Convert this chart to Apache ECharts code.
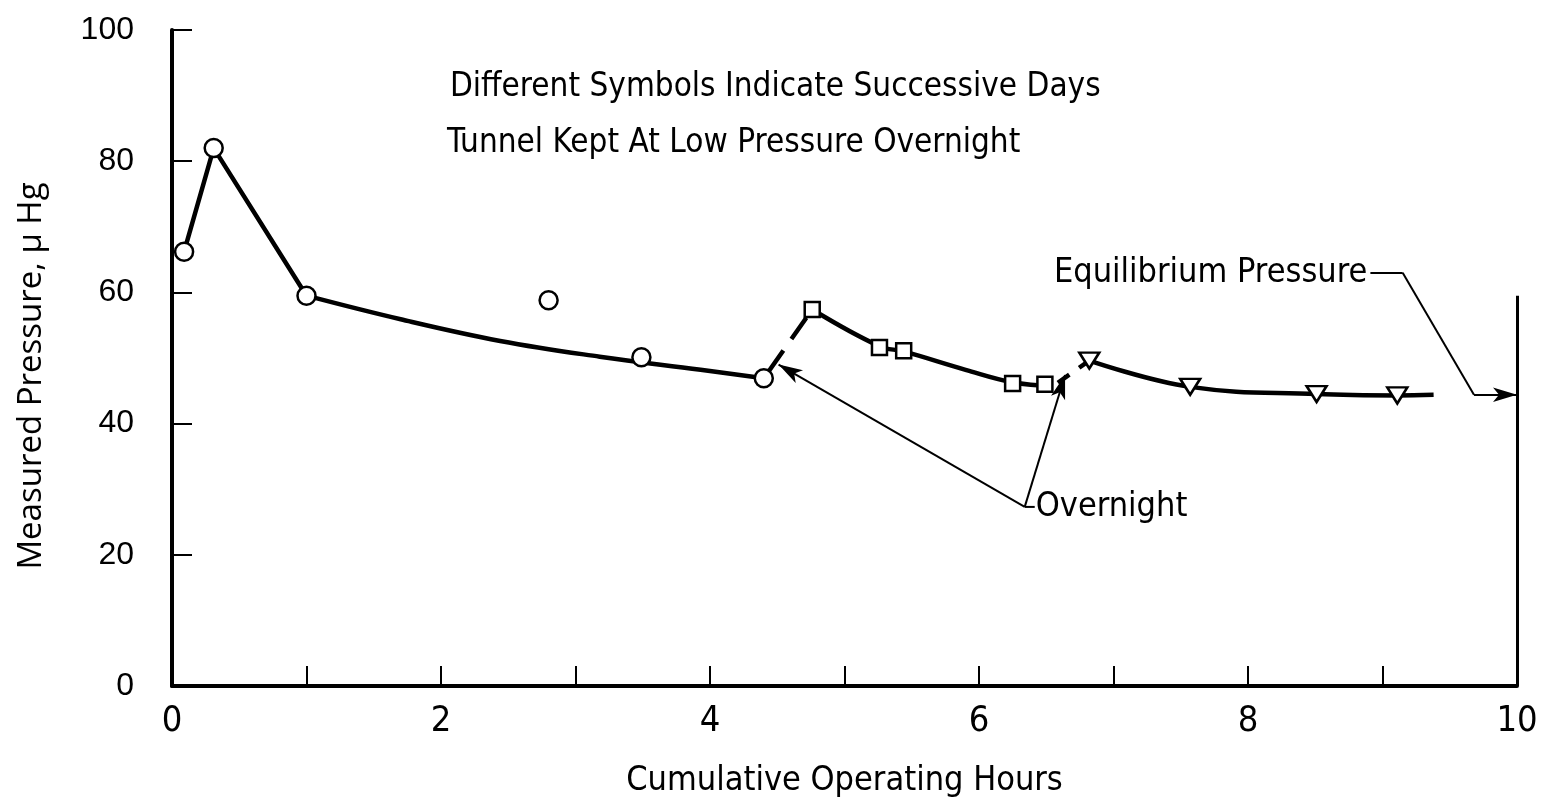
<!DOCTYPE html>
<html>
<head>
<meta charset="utf-8">
<script src="https://cdn.jsdelivr.net/npm/echarts@6/dist/echarts.min.js"></script>
<style>
  html, body { margin: 0; padding: 0; background: #fff; }
  #chart { width: 1545px; height: 803px; }
</style>
</head>
<body>
<div id="chart"></div>
<script>
// day 1 (circles), day 2 (squares), day 3 (triangles)
const day1Hours = [0.09, 0.31, 1.0, 2.8, 3.49, 4.4];
const day1Pressure = [66.2, 82.0, 59.5, 58.8, 50.1, 46.9];
const day2Hours = [4.76, 5.26, 5.44, 6.25, 6.49];
const day2Pressure = [57.4, 51.6, 51.1, 46.1, 46.0];
const day3Hours = [6.82, 7.57, 8.51, 9.11];
const day3Pressure = [49.6, 45.6, 44.5, 44.3];

// faired curves
const day1RiseHours = [0.09, 0.31, 1.0];
const day1RisePressure = [66.2, 82.0, 59.5];
const day1FitHours = [1.0, 1.7, 2.44, 3.18, 3.93, 4.4];
const day1FitPressure = [59.5, 55.9, 52.6, 50.2, 48.2, 46.9];
const day2FitHours = [4.76, 5.26, 5.44, 5.9, 6.25, 6.55];
const day2FitPressure = [57.4, 51.8, 51.0, 48.2, 46.3, 45.7];
const day3FitHours = [6.82, 7.57, 8.51, 9.11, 9.38];
const day3FitPressure = [49.6, 45.6, 44.5, 44.3, 44.4];

// overnight jumps (dashed)
const night1Hours = [4.4, 4.76];
const night1Pressure = [46.9, 57.4];
const night2Hours = [6.55, 6.82];
const night2Pressure = [45.7, 49.6];

const xTicks = [0, 2, 4, 6, 8, 10];
const equilibrium = 44.4;

// annotation anchors (data units)
const overnightVertex = [6.34, 27.3];
const overnightTips = [[4.51, 49.0], [6.64, 47.4]];
const equilibriumLeader = [[8.91, 63.0], [9.15, 63.0], [9.68, equilibrium], [10, equilibrium]];

const FONT_NARROW = '"Liberation Sans Narrow", "DejaVu Sans Condensed", "Roboto Condensed", sans-serif';

const zip = (xs, ys) => xs.map((x, i) => [x, ys[i]]);

const chart = echarts.init(document.getElementById('chart'));

const lineStyleThick = { color: '#000', width: 4.5 };
const markerStyle = { color: '#fff', borderColor: '#000', borderWidth: 2.5, opacity: 1 };

const option = {
  animation: false,
  backgroundColor: '#fff',
  grid: { left: 172, right: 28, top: 30, bottom: 117 },
  xAxis: {
    type: 'value',
    min: 0,
    max: 10,
    interval: 1,
    name: 'Cumulative Operating Hours',
    nameLocation: 'middle',
    nameGap: 78,
    nameTextStyle: { fontFamily: FONT_NARROW, fontSize: 34, color: '#000' },
    axisLine: { lineStyle: { color: '#000', width: 4 } },
    axisTick: { inside: true, length: 20, lineStyle: { color: '#000', width: 2 } },
    axisLabel: {
      margin: 18,
      fontFamily: FONT_NARROW,
      fontSize: 36,
      color: '#000',
      formatter: (v) => (xTicks.indexOf(v) >= 0 ? String(v) : '')
    },
    splitLine: { show: false }
  },
  yAxis: {
    type: 'value',
    min: 0,
    max: 100,
    interval: 20,
    name: 'Measured Pressure, \u03bc Hg',
    nameLocation: 'middle',
    nameGap: 124,
    nameTextStyle: {
      fontFamily: '"Open Sans", sans-serif', fontSize: 33, color: '#000',
      padding: [0, 36, 0, 0]
    },
    axisLine: { lineStyle: { color: '#000', width: 4 } },
    axisTick: { inside: true, length: 20, lineStyle: { color: '#000', width: 2 } },
    axisLabel: {
      margin: 38,
      fontFamily: '"Liberation Sans", sans-serif',
      fontSize: 32,
      color: '#000'
    },
    splitLine: { show: false }
  },
  series: [
    {
      type: 'line', data: zip(day1RiseHours, day1RisePressure),
      symbol: 'none', lineStyle: lineStyleThick, z: 2
    },
    {
      type: 'line', data: zip(day1FitHours, day1FitPressure), smooth: 0.4,
      symbol: 'none', lineStyle: lineStyleThick, z: 2
    },
    {
      type: 'line', data: zip(day2FitHours, day2FitPressure), smooth: 0.4,
      symbol: 'none', lineStyle: lineStyleThick, z: 2
    },
    {
      type: 'line', data: zip(day3FitHours, day3FitPressure), smooth: 0.4,
      symbol: 'none', lineStyle: lineStyleThick, z: 2
    },
    {
      type: 'line', data: zip(night1Hours, night1Pressure),
      symbol: 'none', lineStyle: { color: '#000', width: 4.5, type: [26, 14], dashOffset: -8 }, z: 2
    },
    {
      type: 'line', data: zip(night2Hours, night2Pressure),
      symbol: 'none', lineStyle: { color: '#000', width: 4.5, type: [14, 12], dashOffset: -6 }, z: 2
    },
    {
      name: 'Day 1', type: 'scatter', data: zip(day1Hours, day1Pressure),
      symbol: 'circle', symbolSize: 18,
      itemStyle: markerStyle, z: 5
    },
    {
      name: 'Day 2', type: 'scatter', data: zip(day2Hours, day2Pressure),
      symbol: 'rect', symbolSize: 15,
      itemStyle: markerStyle, z: 5
    },
    {
      name: 'Day 3', type: 'scatter', data: zip(day3Hours, day3Pressure),
      symbol: 'triangle', symbolRotate: 180, symbolSize: [20, 16],
      itemStyle: markerStyle, z: 5
    },
    {
      // annotations: leader lines, right edge
      type: 'line', data: [], silent: true,
      markLine: {
        silent: true,
        animation: false,
        label: { show: false },
        lineStyle: { color: '#000', width: 2, type: 'solid' },
        symbol: ['none', 'none'],
        data: [
          [{ coord: overnightVertex, symbol: 'none' },
           { coord: overnightTips[0], symbol: 'arrow', symbolSize: [11, 24] }],
          [{ coord: overnightVertex, symbol: 'none' },
           { coord: overnightTips[1], symbol: 'arrow', symbolSize: [11, 24] }],
          [{ coord: equilibriumLeader[0] }, { coord: equilibriumLeader[1] }],
          [{ coord: equilibriumLeader[1] }, { coord: equilibriumLeader[2] }],
          [{ coord: equilibriumLeader[2], symbol: 'none' },
           { coord: equilibriumLeader[3], symbol: 'arrow', symbolSize: [11, 24] }],
          [{ coord: [10, 0], lineStyle: { width: 3 } }, { coord: [10, 59.5] }]
        ]
      }
    }
  ]
};

chart.setOption(option);

// text placed against data positions
const vp = chart.convertToPixel({ gridIndex: 0 }, overnightVertex);
const ep = chart.convertToPixel({ gridIndex: 0 }, equilibriumLeader[0]);

chart.setOption({
  graphic: [
    {
      type: 'text', left: 450, top: 71,
      style: { text: 'Different Symbols Indicate Successive Days', font: '33px ' + FONT_NARROW, fill: '#000' }
    },
    {
      type: 'text', left: 447, top: 127,
      style: { text: 'Tunnel Kept At Low Pressure Overnight', font: '33px ' + FONT_NARROW, fill: '#000' }
    },
    {
      type: 'line', shape: { x1: vp[0], y1: vp[1], x2: vp[0] + 10, y2: vp[1] },
      style: { stroke: '#000', lineWidth: 2 }
    },
    {
      type: 'text', x: vp[0] + 11, y: vp[1],
      style: { text: 'Overnight', font: '34px ' + FONT_NARROW, fill: '#000', verticalAlign: 'middle', align: 'left' }
    },
    {
      type: 'text', x: ep[0] - 3, y: ep[1],
      style: { text: 'Equilibrium Pressure', font: '34px ' + FONT_NARROW, fill: '#000', verticalAlign: 'middle', align: 'right' }
    }
  ]
});
</script>
</body>
</html>
